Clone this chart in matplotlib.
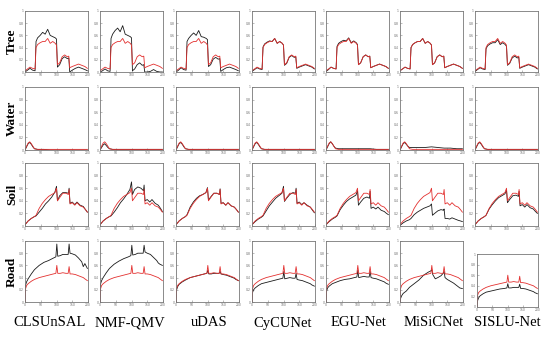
import matplotlib
matplotlib.use('Agg')
import matplotlib.pyplot as plt

W, H = 550, 337

METHODS = ['CLSUnSAL', 'NMF-QMV', 'uDAS', 'CyCUNet', 'EGU-Net', 'MiSiCNet', 'SISLU-Net']
ENDMEMBERS = ['Tree', 'Water', 'Soil', 'Road']

# band positions per endmember
X_TREE = [0, 8, 16, 24, 32, 35, 40, 48, 56, 64, 72, 80, 88, 96, 100, 103, 110, 118, 126, 134, 139, 142, 150, 160, 170, 180, 190, 198]
X_WATER = [0, 5, 10, 15, 20, 25, 30, 40, 60, 80, 100, 120, 140, 160, 180, 198]
X_SOIL = [0, 10, 20, 30, 35, 45, 55, 65, 75, 85, 95, 100, 103, 110, 120, 130, 138, 140, 143, 150, 158, 165, 175, 185, 192, 198]
X_ROAD = [0, 2, 5, 10, 20, 30, 45, 60, 75, 90, 98, 101, 104, 112, 120, 130, 137, 140, 143, 150, 160, 170, 180, 185, 190, 198]

# reference spectra (red)
GT_TREE = [0.02, 0.05, 0.08, 0.06, 0.05, 0.40, 0.45, 0.48, 0.50, 0.50, 0.55, 0.47, 0.50, 0.47, 0.44, 0.12, 0.15, 0.25, 0.28, 0.25, 0.26, 0.07, 0.09, 0.11, 0.13, 0.11, 0.09, 0.06]
GT_WATER = [0.00, 0.06, 0.11, 0.13, 0.10, 0.06, 0.02, 0.01, 0.01, 0.01, 0.01, 0.01, 0.01, 0.01, 0.01, 0.01]
GT_SOIL = [0.02, 0.08, 0.12, 0.15, 0.17, 0.28, 0.36, 0.42, 0.47, 0.50, 0.53, 0.60, 0.40, 0.45, 0.52, 0.52, 0.50, 0.58, 0.35, 0.37, 0.33, 0.37, 0.32, 0.30, 0.26, 0.22]
GT_ROAD = [0.00, 0.22, 0.27, 0.30, 0.34, 0.37, 0.40, 0.42, 0.44, 0.46, 0.47, 0.60, 0.47, 0.47, 0.48, 0.47, 0.47, 0.58, 0.46, 0.46, 0.45, 0.43, 0.41, 0.40, 0.38, 0.35]

# estimated spectra (black), one list per method
EST_TREE = [
    [0.00, 0.03, 0.06, 0.03, 0.02, 0.50, 0.56, 0.60, 0.65, 0.62, 0.70, 0.60, 0.58, 0.56, 0.54, 0.08, 0.12, 0.22, 0.25, 0.22, 0.23, 0.00, 0.03, 0.06, 0.08, 0.06, 0.04, 0.02],
    [0.00, 0.02, 0.05, 0.02, 0.01, 0.55, 0.62, 0.68, 0.72, 0.66, 0.76, 0.62, 0.60, 0.58, 0.56, 0.02, 0.05, 0.12, 0.15, 0.11, 0.12, 0.00, 0.00, 0.01, 0.04, 0.01, 0.00, 0.00],
    [0.00, 0.03, 0.07, 0.04, 0.03, 0.50, 0.55, 0.60, 0.64, 0.60, 0.68, 0.58, 0.57, 0.55, 0.53, 0.09, 0.12, 0.21, 0.24, 0.21, 0.22, 0.01, 0.04, 0.07, 0.08, 0.06, 0.04, 0.02],
    [0.01, 0.04, 0.07, 0.05, 0.04, 0.41, 0.46, 0.49, 0.51, 0.50, 0.55, 0.47, 0.50, 0.47, 0.44, 0.11, 0.14, 0.24, 0.27, 0.24, 0.25, 0.06, 0.08, 0.10, 0.12, 0.10, 0.08, 0.05],
    [0.01, 0.04, 0.08, 0.06, 0.05, 0.42, 0.47, 0.50, 0.52, 0.51, 0.56, 0.48, 0.51, 0.48, 0.45, 0.12, 0.15, 0.25, 0.28, 0.25, 0.26, 0.07, 0.09, 0.11, 0.13, 0.11, 0.09, 0.06],
    [0.02, 0.05, 0.08, 0.06, 0.05, 0.40, 0.45, 0.48, 0.50, 0.50, 0.55, 0.47, 0.50, 0.47, 0.44, 0.12, 0.15, 0.25, 0.28, 0.25, 0.26, 0.07, 0.09, 0.11, 0.13, 0.11, 0.09, 0.06],
    [0.01, 0.04, 0.07, 0.05, 0.04, 0.38, 0.43, 0.46, 0.48, 0.48, 0.53, 0.45, 0.48, 0.45, 0.42, 0.11, 0.14, 0.23, 0.26, 0.23, 0.24, 0.06, 0.08, 0.10, 0.12, 0.10, 0.08, 0.05],
]
EST_WATER = [
    [0.00, 0.05, 0.10, 0.12, 0.09, 0.05, 0.02, 0.01, 0.01, 0.00, 0.00, 0.00, 0.00, 0.00, 0.00, 0.00],
    [0.00, 0.04, 0.08, 0.10, 0.07, 0.04, 0.02, 0.01, 0.01, 0.01, 0.01, 0.01, 0.01, 0.01, 0.01, 0.01],
    [0.00, 0.05, 0.10, 0.12, 0.09, 0.05, 0.02, 0.01, 0.01, 0.01, 0.01, 0.01, 0.01, 0.01, 0.01, 0.01],
    [0.00, 0.05, 0.10, 0.12, 0.09, 0.05, 0.02, 0.01, 0.01, 0.01, 0.01, 0.01, 0.01, 0.01, 0.01, 0.01],
    [0.00, 0.05, 0.10, 0.13, 0.10, 0.06, 0.03, 0.02, 0.02, 0.02, 0.02, 0.02, 0.02, 0.01, 0.01, 0.01],
    [0.00, 0.05, 0.10, 0.12, 0.09, 0.06, 0.04, 0.04, 0.04, 0.04, 0.05, 0.04, 0.03, 0.03, 0.02, 0.02],
    [0.00, 0.05, 0.10, 0.12, 0.09, 0.05, 0.02, 0.01, 0.01, 0.01, 0.01, 0.01, 0.01, 0.01, 0.01, 0.01],
]
EST_SOIL = [
    [0.02, 0.08, 0.12, 0.15, 0.16, 0.22, 0.28, 0.35, 0.40, 0.46, 0.54, 0.63, 0.40, 0.48, 0.53, 0.53, 0.52, 0.60, 0.36, 0.38, 0.34, 0.38, 0.33, 0.31, 0.26, 0.22],
    [0.02, 0.08, 0.12, 0.15, 0.16, 0.22, 0.29, 0.37, 0.43, 0.50, 0.58, 0.70, 0.50, 0.58, 0.62, 0.60, 0.56, 0.65, 0.40, 0.42, 0.38, 0.42, 0.36, 0.33, 0.28, 0.23],
    [0.02, 0.08, 0.12, 0.15, 0.18, 0.30, 0.38, 0.44, 0.48, 0.50, 0.53, 0.61, 0.41, 0.46, 0.52, 0.52, 0.50, 0.59, 0.36, 0.37, 0.33, 0.37, 0.32, 0.30, 0.26, 0.22],
    [0.02, 0.07, 0.11, 0.14, 0.16, 0.24, 0.32, 0.38, 0.44, 0.48, 0.52, 0.63, 0.39, 0.44, 0.50, 0.53, 0.52, 0.60, 0.36, 0.38, 0.34, 0.37, 0.33, 0.30, 0.25, 0.21],
    [0.02, 0.07, 0.11, 0.14, 0.16, 0.26, 0.33, 0.39, 0.43, 0.46, 0.49, 0.56, 0.33, 0.38, 0.44, 0.46, 0.44, 0.55, 0.28, 0.30, 0.27, 0.30, 0.25, 0.23, 0.20, 0.18],
    [0.01, 0.05, 0.08, 0.10, 0.12, 0.18, 0.22, 0.25, 0.28, 0.30, 0.32, 0.35, 0.17, 0.20, 0.24, 0.26, 0.25, 0.27, 0.12, 0.12, 0.11, 0.13, 0.11, 0.09, 0.08, 0.07],
    [0.02, 0.08, 0.12, 0.15, 0.17, 0.27, 0.34, 0.40, 0.45, 0.48, 0.51, 0.57, 0.37, 0.42, 0.48, 0.49, 0.47, 0.55, 0.32, 0.34, 0.30, 0.34, 0.29, 0.27, 0.23, 0.20],
]
EST_ROAD = [
    [0.00, 0.28, 0.33, 0.38, 0.46, 0.53, 0.60, 0.65, 0.68, 0.72, 0.74, 0.95, 0.75, 0.76, 0.78, 0.78, 0.78, 0.95, 0.80, 0.79, 0.77, 0.72, 0.66, 0.58, 0.63, 0.55],
    [0.00, 0.30, 0.35, 0.40, 0.48, 0.55, 0.62, 0.67, 0.71, 0.74, 0.76, 0.93, 0.77, 0.78, 0.80, 0.80, 0.80, 0.93, 0.82, 0.80, 0.78, 0.73, 0.68, 0.64, 0.62, 0.60],
    [0.00, 0.20, 0.25, 0.29, 0.33, 0.36, 0.40, 0.42, 0.44, 0.46, 0.47, 0.52, 0.46, 0.46, 0.47, 0.47, 0.47, 0.50, 0.46, 0.45, 0.44, 0.42, 0.40, 0.39, 0.37, 0.35],
    [0.00, 0.16, 0.20, 0.23, 0.27, 0.30, 0.32, 0.34, 0.36, 0.38, 0.39, 0.50, 0.38, 0.39, 0.40, 0.39, 0.39, 0.47, 0.37, 0.36, 0.35, 0.33, 0.31, 0.30, 0.28, 0.26],
    [0.00, 0.18, 0.23, 0.26, 0.30, 0.32, 0.35, 0.37, 0.38, 0.40, 0.41, 0.52, 0.40, 0.41, 0.42, 0.41, 0.41, 0.50, 0.40, 0.39, 0.38, 0.36, 0.34, 0.33, 0.31, 0.29],
    [0.00, 0.06, 0.10, 0.14, 0.18, 0.24, 0.30, 0.36, 0.44, 0.49, 0.51, 0.53, 0.45, 0.38, 0.40, 0.43, 0.47, 0.50, 0.40, 0.37, 0.34, 0.31, 0.27, 0.25, 0.23, 0.22],
    [0.00, 0.12, 0.17, 0.21, 0.25, 0.28, 0.30, 0.32, 0.34, 0.35, 0.36, 0.44, 0.36, 0.36, 0.37, 0.37, 0.37, 0.43, 0.35, 0.35, 0.34, 0.32, 0.30, 0.29, 0.27, 0.25],
]

ROWS = [
    (X_TREE, GT_TREE, EST_TREE),
    (X_WATER, GT_WATER, EST_WATER),
    (X_SOIL, GT_SOIL, EST_SOIL),
    (X_ROAD, GT_ROAD, EST_ROAD),
]

# panel placement in pixels
COL_LEFT = [25, 100, 176, 252, 326, 400, 475]
PANEL_W = 63
ROW_TOP = [11, 87, 163, 241]
ROW_BOTTOM = [72, 150, 226, 302]
TITLE_X = [50, 130, 209, 283, 359, 434, 507]

fig = plt.figure(figsize=(W / 100, H / 100), dpi=100)


def px_axes(left, top, width, height):
    return fig.add_axes([left / W, 1 - (top + height) / H, width / W, height / H])


for r, (xs, gt, ests) in enumerate(ROWS):
    for c, est in enumerate(ests):
        left, top, bottom, width = COL_LEFT[c], ROW_TOP[r], ROW_BOTTOM[r], PANEL_W
        if r == 3 and c == 6:
            # the last road panel is drawn a bit shorter in the source
            left, top, bottom, width = 477, 254, 307, 61
        ax = px_axes(left, top, width, bottom - top)
        ax.plot(xs, est, color='#1a1a1a', lw=0.6)
        ax.plot(xs, gt, color='#e3302f', lw=0.6)
        ax.set_xlim(0, 200)
        ax.set_ylim(0, 1)
        ax.set_xticks([0, 50, 100, 150, 200])
        ax.set_yticks([0, 0.2, 0.4, 0.6, 0.8, 1])
        ax.set_yticklabels(['0', '0.2', '0.4', '0.6', '0.8', '1'])
        ax.tick_params(direction='in', length=1.2, width=0.4, labelsize=2.2,
                       pad=1, colors='#888888', labelcolor='#666666')
        for sp in ax.spines.values():
            sp.set_linewidth(0.6)
            sp.set_color('#777777')

# row labels
for r, name in enumerate(ENDMEMBERS):
    yc = (ROW_TOP[r] + ROW_BOTTOM[r]) / 2
    fig.text(12 / W, 1 - yc / H, name, rotation=90, ha='center', va='center',
             fontsize=9.5, fontweight='bold', family='Liberation Serif')

# method names
for c, name in enumerate(METHODS):
    fig.text(TITLE_X[c] / W, 1 - 323 / H, name, ha='center', va='center',
             fontsize=10.5, family='Liberation Serif')

fig.savefig('out.png', dpi=100)
